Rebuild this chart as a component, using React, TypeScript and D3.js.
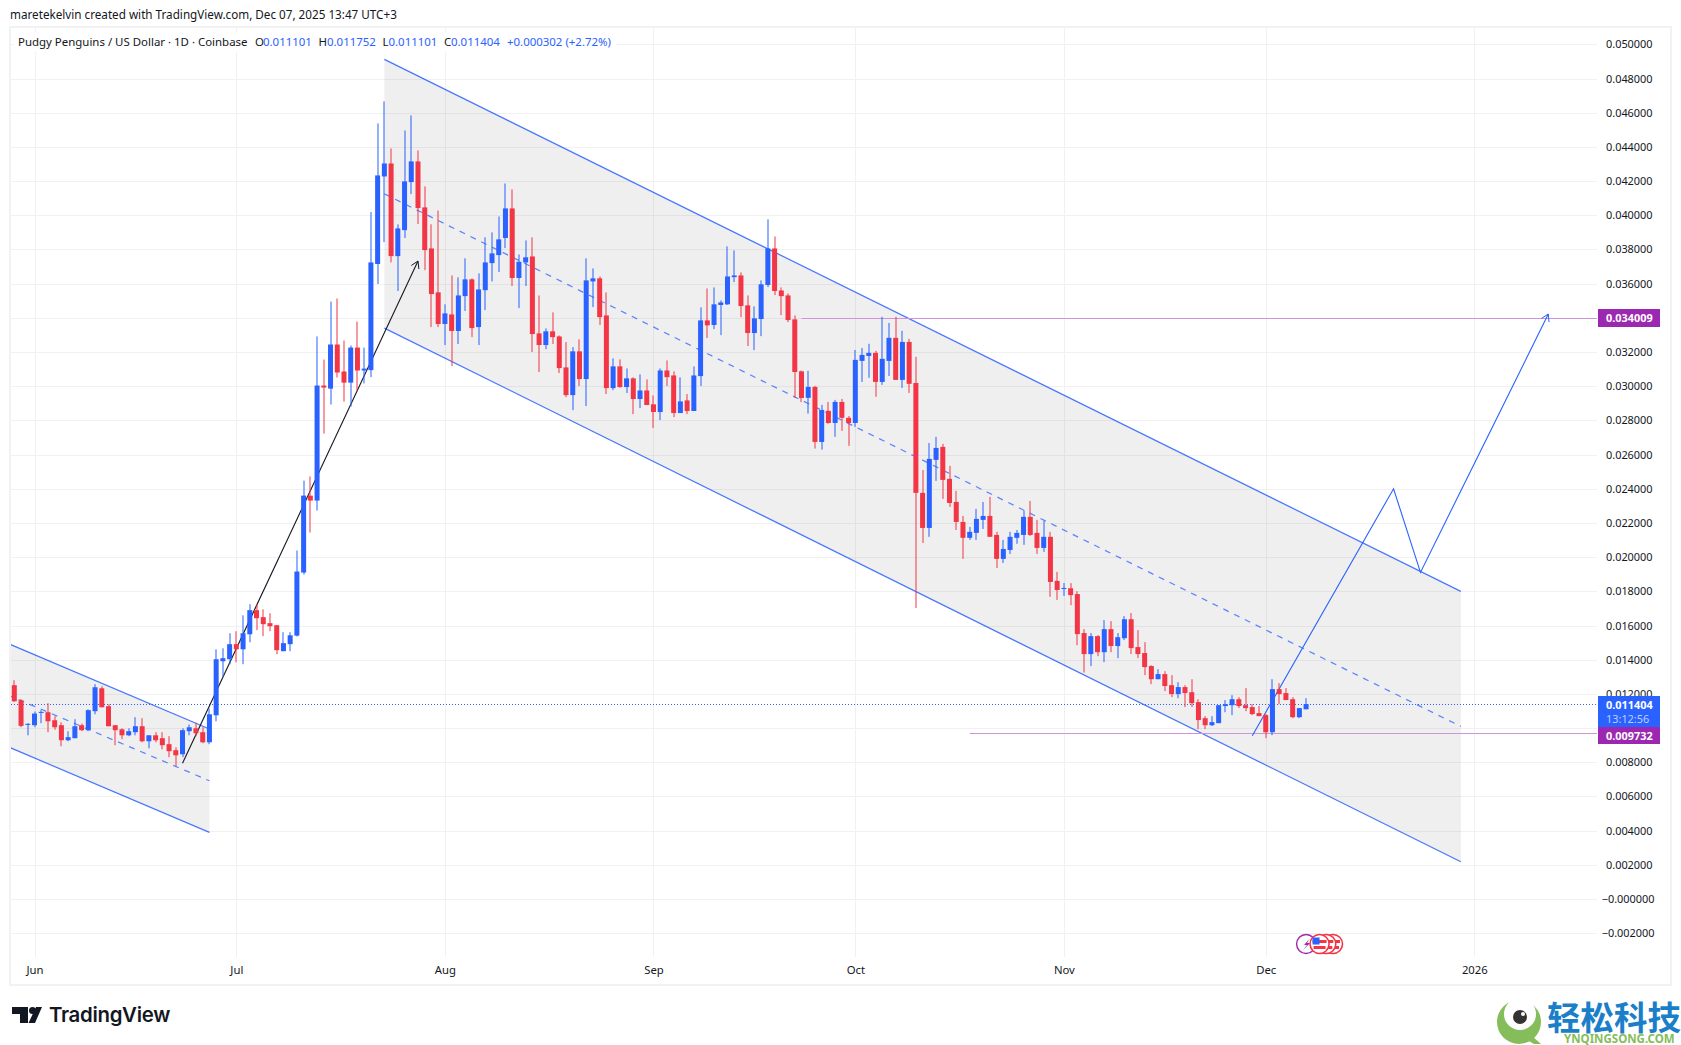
import React, { useRef, useEffect } from 'react';
import * as d3 from 'd3';

// daily candles, first one is 2025-05-29
const firstDay = new Date(Date.UTC(2025, 4, 29));

const opens = [
  0.01251, 0.01163, 0.01019, 0.01017, 0.01089, 0.01093, 0.01046, 0.01017, 0.00929, 0.00941,
  0.01017, 0.00988, 0.01099, 0.01233, 0.01128, 0.01017, 0.00993, 0.00958, 0.00976, 0.01011,
  0.00923, 0.00958, 0.00941, 0.00906, 0.00871, 0.00847, 0.00982, 0.00999, 0.00976, 0.00917,
  0.01075, 0.01391, 0.01403, 0.01491, 0.01461, 0.01549, 0.01690, 0.01649, 0.01614, 0.01602,
  0.01450, 0.01491, 0.01541, 0.01910, 0.02360, 0.02331, 0.03004, 0.02986, 0.03244, 0.03086,
  0.03021, 0.03226, 0.03092, 0.03094, 0.03715, 0.04227, 0.04303, 0.03761, 0.03913, 0.04194,
  0.04315, 0.04046, 0.03806, 0.03549, 0.03364, 0.03420, 0.03323, 0.03527, 0.03625, 0.03346,
  0.03562, 0.03720, 0.03767, 0.03867, 0.04040, 0.03633, 0.03724, 0.03759, 0.03309, 0.03241,
  0.03321, 0.03291, 0.03110, 0.02948, 0.03204, 0.03042, 0.03613, 0.03631, 0.03414, 0.02989,
  0.03116, 0.02995, 0.03046, 0.02925, 0.02975, 0.02894, 0.02849, 0.03092, 0.03063, 0.02843,
  0.02917, 0.02855, 0.03059, 0.03385, 0.03358, 0.03475, 0.03479, 0.03638, 0.03648, 0.03473,
  0.03311, 0.03393, 0.03592, 0.03806, 0.03560, 0.03531, 0.03391, 0.03087, 0.02932, 0.02996,
  0.02674, 0.02856, 0.02785, 0.02908, 0.02815, 0.02785, 0.03148, 0.03177, 0.03195, 0.03025,
  0.03148, 0.03283, 0.03037, 0.03259, 0.03019, 0.02376, 0.02171, 0.02569, 0.02645, 0.02458,
  0.02323, 0.02206, 0.02113, 0.02142, 0.02218, 0.02241, 0.02130, 0.01990, 0.02042, 0.02113,
  0.02130, 0.02236, 0.02142, 0.02054, 0.02119, 0.01861, 0.01814, 0.01818, 0.01784, 0.01556,
  0.01433, 0.01538, 0.01444, 0.01579, 0.01480, 0.01526, 0.01637, 0.01474, 0.01439, 0.01363,
  0.01286, 0.01316, 0.01251, 0.01199, 0.01240, 0.01210, 0.01152, 0.01058, 0.01017, 0.01029,
  0.01129, 0.01134, 0.01169, 0.01134, 0.01123, 0.01088, 0.01076, 0.00976, 0.01228, 0.01205,
  0.01169, 0.01064, 0.011101,
];

const highs = [
  0.01280, 0.01169, 0.01029, 0.01097, 0.01105, 0.01146, 0.01070, 0.01034, 0.00982, 0.01052,
  0.01027, 0.01110, 0.01257, 0.01245, 0.01140, 0.01017, 0.00999, 0.00999, 0.01064, 0.01058,
  0.00958, 0.00976, 0.00976, 0.00953, 0.00888, 0.00999, 0.01021, 0.01032, 0.01005, 0.01116,
  0.01461, 0.01467, 0.01555, 0.01567, 0.01660, 0.01725, 0.01725, 0.01695, 0.01672, 0.01602,
  0.01561, 0.01561, 0.02039, 0.02448, 0.02472, 0.03291, 0.03156, 0.03495, 0.03513, 0.03267,
  0.03238, 0.03378, 0.03226, 0.04019, 0.04537, 0.04666, 0.04391, 0.03947, 0.04496, 0.04584,
  0.04379, 0.04169, 0.03947, 0.04028, 0.03479, 0.03648, 0.03637, 0.03748, 0.03631, 0.03660,
  0.03871, 0.03900, 0.03993, 0.04186, 0.04151, 0.03771, 0.03853, 0.03871, 0.03531, 0.03338,
  0.03432, 0.03297, 0.03258, 0.03229, 0.03274, 0.03748, 0.03689, 0.03642, 0.03549, 0.03163,
  0.03157, 0.03104, 0.03052, 0.03069, 0.03040, 0.02946, 0.03104, 0.03151, 0.03087, 0.03052,
  0.02954, 0.03116, 0.03461, 0.03572, 0.03578, 0.03502, 0.03818, 0.03794, 0.03666, 0.03531,
  0.03467, 0.03619, 0.03976, 0.03876, 0.03578, 0.03543, 0.03414, 0.03092, 0.03090, 0.03002,
  0.02891, 0.02908, 0.02920, 0.02926, 0.02826, 0.03212, 0.03224, 0.03248, 0.03207, 0.03406,
  0.03370, 0.03406, 0.03324, 0.03277, 0.03172, 0.02510, 0.02668, 0.02704, 0.02663, 0.02534,
  0.02388, 0.02241, 0.02177, 0.02282, 0.02323, 0.02353, 0.02148, 0.02101, 0.02148, 0.02159,
  0.02271, 0.02329, 0.02218, 0.02212, 0.02148, 0.01914, 0.01849, 0.01848, 0.01801, 0.01579,
  0.01556, 0.01544, 0.01632, 0.01626, 0.01556, 0.01655, 0.01673, 0.01573, 0.01503, 0.01368,
  0.01345, 0.01333, 0.01310, 0.01269, 0.01251, 0.01286, 0.01169, 0.01070, 0.01070, 0.01134,
  0.01164, 0.01193, 0.01181, 0.01234, 0.01140, 0.01129, 0.01082, 0.01286, 0.01263, 0.01234,
  0.01181, 0.01117, 0.011752,
];

const lows = [
  0.01153, 0.01005, 0.00958, 0.01005, 0.01029, 0.00976, 0.00990, 0.00894, 0.00923, 0.00941,
  0.00982, 0.00982, 0.01081, 0.01122, 0.01011, 0.00900, 0.00935, 0.00953, 0.00958, 0.00917,
  0.00882, 0.00917, 0.00876, 0.00830, 0.00777, 0.00830, 0.00958, 0.00953, 0.00912, 0.00906,
  0.01040, 0.01302, 0.01374, 0.01385, 0.01374, 0.01502, 0.01573, 0.01538, 0.01567, 0.01432,
  0.01450, 0.01450, 0.01536, 0.01898, 0.02144, 0.02273, 0.02723, 0.02893, 0.03051, 0.02910,
  0.02881, 0.02975, 0.03016, 0.03053, 0.03598, 0.03843, 0.03724, 0.03557, 0.03867, 0.04124,
  0.03949, 0.03679, 0.03346, 0.03346, 0.03241, 0.03118, 0.03247, 0.03440, 0.03287, 0.03241,
  0.03445, 0.03613, 0.03668, 0.03808, 0.03586, 0.03457, 0.03586, 0.03200, 0.03083, 0.03217,
  0.03247, 0.03077, 0.02936, 0.02860, 0.03001, 0.02884, 0.03463, 0.03358, 0.02954, 0.02977,
  0.02991, 0.02960, 0.02837, 0.02872, 0.02890, 0.02755, 0.02802, 0.03001, 0.02819, 0.02843,
  0.02837, 0.02855, 0.03001, 0.03282, 0.03334, 0.03299, 0.03475, 0.03609, 0.03404, 0.03235,
  0.03211, 0.03293, 0.03580, 0.03533, 0.03416, 0.03375, 0.02931, 0.02907, 0.02840, 0.02635,
  0.02629, 0.02780, 0.02704, 0.02739, 0.02651, 0.02762, 0.03025, 0.03049, 0.02938, 0.03008,
  0.03060, 0.03037, 0.02990, 0.02961, 0.01703, 0.02083, 0.02119, 0.02446, 0.02341, 0.02294,
  0.02159, 0.01990, 0.02101, 0.02101, 0.02165, 0.02119, 0.01937, 0.01966, 0.02019, 0.02078,
  0.02072, 0.02124, 0.02019, 0.02031, 0.01768, 0.01750, 0.01773, 0.01719, 0.01485, 0.01325,
  0.01363, 0.01421, 0.01386, 0.01444, 0.01409, 0.01515, 0.01433, 0.01409, 0.01310, 0.01257,
  0.01286, 0.01216, 0.01181, 0.01175, 0.01123, 0.01123, 0.00994, 0.00994, 0.01012, 0.01029,
  0.01093, 0.01076, 0.01117, 0.01099, 0.01076, 0.01070, 0.00941, 0.00959, 0.01140, 0.01164,
  0.01058, 0.01058, 0.011101,
];

const closes = [
  0.01157, 0.01013, 0.01025, 0.01085, 0.01095, 0.01040, 0.01005, 0.00929, 0.00947, 0.01011,
  0.00988, 0.01105, 0.01239, 0.01122, 0.01011, 0.00988, 0.00958, 0.00982, 0.01011, 0.00923,
  0.00958, 0.00929, 0.00900, 0.00865, 0.00841, 0.00988, 0.01005, 0.00970, 0.00917, 0.01081,
  0.01403, 0.01409, 0.01491, 0.01461, 0.01555, 0.01690, 0.01643, 0.01608, 0.01596, 0.01456,
  0.01497, 0.01543, 0.01916, 0.02360, 0.02331, 0.03004, 0.02992, 0.03244, 0.03080, 0.03021,
  0.03226, 0.03092, 0.03103, 0.03724, 0.04233, 0.04303, 0.03761, 0.03923, 0.04198, 0.04315,
  0.04042, 0.03796, 0.03539, 0.03364, 0.03426, 0.03323, 0.03531, 0.03625, 0.03340, 0.03566,
  0.03724, 0.03777, 0.03859, 0.04040, 0.03633, 0.03728, 0.03754, 0.03305, 0.03241, 0.03321,
  0.03287, 0.03106, 0.02948, 0.03204, 0.03042, 0.03619, 0.03631, 0.03404, 0.02989, 0.03116,
  0.02995, 0.03046, 0.02925, 0.02975, 0.02890, 0.02849, 0.03092, 0.03053, 0.02843, 0.02911,
  0.02855, 0.03063, 0.03385, 0.03356, 0.03479, 0.03490, 0.03642, 0.03648, 0.03469, 0.03311,
  0.03397, 0.03596, 0.03806, 0.03557, 0.03527, 0.03387, 0.03083, 0.02931, 0.02996, 0.02674,
  0.02861, 0.02785, 0.02908, 0.02815, 0.02785, 0.03154, 0.03183, 0.03195, 0.03025, 0.03160,
  0.03283, 0.03037, 0.03259, 0.03014, 0.02376, 0.02171, 0.02575, 0.02639, 0.02452, 0.02317,
  0.02206, 0.02113, 0.02148, 0.02224, 0.02241, 0.02119, 0.01990, 0.02048, 0.02119, 0.02142,
  0.02236, 0.02130, 0.02054, 0.02119, 0.01855, 0.01808, 0.01820, 0.01778, 0.01550, 0.01433,
  0.01538, 0.01444, 0.01579, 0.01480, 0.01532, 0.01637, 0.01468, 0.01433, 0.01357, 0.01286,
  0.01316, 0.01246, 0.01199, 0.01240, 0.01205, 0.01146, 0.01047, 0.01017, 0.01035, 0.01134,
  0.01140, 0.01169, 0.01129, 0.01117, 0.01082, 0.01070, 0.00976, 0.01228, 0.01199, 0.01164,
  0.01064, 0.01117, 0.011404,
];

const priceTicks = d3.range(25, -2, -1).map(i => i * 0.002);
const monthTicks = ['2025-06-01', '2025-07-01', '2025-08-01', '2025-09-01', '2025-10-01', '2025-11-01', '2025-12-01', '2026-01-01'];
const monthLabels = ['Jun', 'Jul', 'Aug', 'Sep', 'Oct', 'Nov', 'Dec', '2026'];

// [date, price] anchors of the drawings
const bigTop: [string, number][] = [['2025-07-23', 0.04912], ['2025-12-30', 0.0180]];
const bigMid: [string, number][] = [['2025-07-23', 0.04125], ['2025-12-30', 0.0101]];
const bigBottom: [string, number][] = [['2025-07-23', 0.0334], ['2025-12-30', 0.00218]];
const smallTop: [string, number][] = [['2025-05-28', 0.01496], ['2025-06-27', 0.00995]];
const smallMid: [string, number][] = [['2025-05-28', 0.01194], ['2025-06-27', 0.00692]];
const smallBottom: [string, number][] = [['2025-05-28', 0.00892], ['2025-06-27', 0.0039]];
const riseArrow: [string, number][] = [['2025-06-23', 0.00794], ['2025-07-28', 0.03732]];
const projection: [string, number][] = [['2025-11-29', 0.00955], ['2025-12-20', 0.024], ['2025-12-24', 0.01911], ['2026-01-12', 0.03422]];

const resistance = { from: '2025-09-23', price: 0.034009, label: '0.034009' };
const support = { from: '2025-10-18', price: 0.009732, label: '0.009732' };
const lastPrice = 0.011404;
const countdown = '13:12:56';

const legendParts = [
  { at: 18, text: 'Pudgy Penguins / US Dollar · 1D · Coinbase', blue: false },
  { at: 255, text: 'O', blue: false },
  { at: 263, text: '0.011101', blue: true },
  { at: 318.5, text: 'H', blue: false },
  { at: 327, text: '0.011752', blue: true },
  { at: 382.5, text: 'L', blue: false },
  { at: 388.5, text: '0.011101', blue: true },
  { at: 444, text: 'C', blue: false },
  { at: 451, text: '0.011404', blue: true },
  { at: 507, text: '+0.000302 (+2.72%)', blue: true },
];

const flagDays = ['2025-12-11', '2025-12-10', '2025-12-09'];
const boltDay = '2025-12-07';

const BLUE = '#2962FF';
const RED = '#F23645';
const PURPLE = '#9C27B0';
const INK = '#131722';
const FONT = '"Noto Sans", sans-serif';

const parseDay = (s: string) => new Date(s + 'T00:00:00Z');

export default function App() {
  const ref = useRef<SVGSVGElement | null>(null);

  useEffect(() => {
    if (!ref.current) return;
    const svg = d3.select(ref.current);
    svg.selectAll('*').remove();

    const plot = { left: 11, right: 1597, top: 27, bottom: 957 };

    const x = d3.scaleUtc()
      .domain([parseDay('2025-06-01'), parseDay('2026-01-01')])
      .range([34.5, 1474.3]);
    const y = d3.scaleLinear()
      .domain([0.048, 0.008])
      .range([78.5, 762.3]);

    const clip = svg.append('clipPath').attr('id', 'plot-clip');
    clip.append('rect')
      .attr('x', plot.left).attr('y', plot.top)
      .attr('width', plot.right - plot.left).attr('height', plot.bottom - plot.top + 20);

    // frame
    svg.append('rect')
      .attr('x', 10).attr('y', 27).attr('width', 1661).attr('height', 958)
      .attr('fill', '#fff').attr('stroke', '#f2f2f2').attr('stroke-width', 2);

    svg.append('text')
      .attr('x', 10).attr('y', 19)
      .attr('font-family', FONT).attr('font-size', 11.7).attr('fill', INK)
      .text('maretekelvin created with TradingView.com, Dec 07, 2025 13:47 UTC+3');

    // grid
    const grid = svg.append('g').attr('fill', 'none').attr('stroke', '#f1f1f1');
    grid.selectAll('line.h').data(priceTicks).join('line')
      .attr('class', 'h')
      .attr('x1', plot.left).attr('x2', plot.right)
      .attr('y1', d => Math.round(y(d)) + 0.5).attr('y2', d => Math.round(y(d)) + 0.5);
    grid.selectAll('line.v').data(monthTicks).join('line')
      .attr('class', 'v')
      .attr('x1', d => Math.round(x(parseDay(d))) + 0.5).attr('x2', d => Math.round(x(parseDay(d))) + 0.5)
      .attr('y1', plot.top).attr('y2', plot.bottom);

    // legend sits on its own white strip
    svg.append('rect').attr('x', 14).attr('y', 32).attr('width', 602).attr('height', 20).attr('fill', '#fff');
    svg.append('g').selectAll('text').data(legendParts).join('text')
      .attr('x', d => d.at).attr('y', 46)
      .attr('font-family', FONT).attr('font-size', 11.45)
      .attr('fill', d => (d.blue ? BLUE : INK))
      .text(d => d.text);

    const drawings = svg.append('g').attr('clip-path', 'url(#plot-clip)');
    const toXY = (d: [string, number]): [number, number] => [x(parseDay(d[0])), y(d[1])];
    const line = d3.line<[string, number]>().x(d => toXY(d)[0]).y(d => toXY(d)[1]);

    const channel = (top: [string, number][], mid: [string, number][], bottom: [string, number][]) => {
      drawings.append('path')
        .attr('d', line([top[0], top[1], bottom[1], bottom[0]]) + 'Z')
        .attr('fill', 'rgba(120,123,134,0.12)');
      [top, bottom].forEach(l => {
        drawings.append('path').attr('d', line(l)).attr('fill', 'none')
          .attr('stroke', BLUE).attr('stroke-opacity', 0.85).attr('stroke-width', 1.25);
      });
      drawings.append('path').attr('d', line(mid)).attr('fill', 'none')
        .attr('stroke', BLUE).attr('stroke-opacity', 0.75).attr('stroke-width', 1.25).attr('stroke-dasharray', '6 6');
    };
    channel(smallTop, smallMid, smallBottom);
    channel(bigTop, bigMid, bigBottom);

    // support / resistance
    [resistance, support].forEach(l => {
      drawings.append('line')
        .attr('x1', x(parseDay(l.from))).attr('x2', plot.right)
        .attr('y1', Math.round(y(l.price)) + 0.5).attr('y2', Math.round(y(l.price)) + 0.5)
        .attr('stroke', '#CE93D8').attr('stroke-width', 1.2);
    });

    // last price
    drawings.append('line')
      .attr('x1', plot.left).attr('x2', plot.right)
      .attr('y1', Math.round(y(lastPrice)) + 0.5).attr('y2', Math.round(y(lastPrice)) + 0.5)
      .attr('stroke', BLUE).attr('stroke-dasharray', '1 2');

    const arrowed = (pts: [string, number][], color: string) => {
      const p = pts.map(toXY);
      const [x0, y0] = p[p.length - 2];
      const [x1, y1] = p[p.length - 1];
      const a = Math.atan2(y1 - y0, x1 - x0);
      const head = d3.path();
      [-0.55, 0.55].forEach(o => {
        head.moveTo(x1 - 8 * Math.cos(a + o), y1 - 8 * Math.sin(a + o));
        head.lineTo(x1, y1);
      });
      drawings.append('path').attr('d', line(pts)).attr('fill', 'none').attr('stroke', color).attr('stroke-width', 1.1);
      drawings.append('path').attr('d', head.toString()).attr('fill', 'none').attr('stroke', color);
    };
    arrowed(riseArrow, INK);
    arrowed(projection, BLUE);

    // candles
    const candles = opens.map((o, i) => ({
      date: d3.utcDay.offset(firstDay, i),
      o, h: highs[i], l: lows[i], c: closes[i],
    }));
    const cg = svg.append('g').attr('clip-path', 'url(#plot-clip)');
    const candle = cg.selectAll('g').data(candles).join('g')
      .attr('fill', d => (d.c >= d.o ? BLUE : RED));
    candle.append('rect')
      .attr('x', d => Math.round(x(d.date)) - 0.5).attr('width', 1)
      .attr('y', d => y(d.h)).attr('height', d => y(d.l) - y(d.h));
    candle.append('rect')
      .attr('x', d => x(d.date) - 2.5).attr('width', 5)
      .attr('y', d => y(Math.max(d.o, d.c)))
      .attr('height', d => Math.max(1, y(Math.min(d.o, d.c)) - y(Math.max(d.o, d.c))));

    // price axis
    const yAxis = d3.axisRight(y)
      .tickValues(priceTicks)
      .tickSize(0)
      .tickPadding(0)
      .tickFormat(d => {
        const v = +d;
        const s = Math.abs(v).toFixed(6);
        return v <= 0 ? '\u2212' + s : s;
      });
    const yg = svg.append('g').attr('transform', 'translate(1606,0)').call(yAxis);
    yg.select('.domain').remove();
    yg.selectAll('text')
      .attr('font-family', FONT).attr('font-size', 10.9).attr('fill', INK);
    yg.selectAll<SVGTextElement, number>('text')
      .filter(d => +d <= 0)
      .attr('text-anchor', 'end').attr('x', 48.5);

    // time axis
    const xAxis = d3.axisBottom(x)
      .tickValues(monthTicks.map(parseDay))
      .tickSize(0)
      .tickPadding(0)
      .tickFormat((_, i) => monthLabels[i]);
    const xg = svg.append('g').attr('transform', 'translate(0,966)').call(xAxis);
    xg.select('.domain').remove();
    xg.selectAll<SVGTextElement, Date>('text')
      .attr('font-family', FONT).attr('font-size', 11.3).attr('fill', INK);

    // axis badges
    const badge = (top: number, h: number, fill: string, label: string) => {
      svg.append('rect').attr('x', 1598).attr('y', top).attr('width', 62).attr('height', h).attr('fill', fill);
      svg.append('text')
        .attr('x', 1606).attr('y', top + 13)
        .attr('font-family', FONT).attr('font-size', 10.9).attr('font-weight', 700).attr('fill', '#fff')
        .text(label);
    };
    badge(Math.round(y(resistance.price)) - 9, 18, PURPLE, resistance.label);
    badge(696, 31, BLUE, lastPrice.toFixed(6));
    svg.append('text')
      .attr('x', 1606).attr('y', 723)
      .attr('font-family', FONT).attr('font-size', 10.9).attr('fill', '#fff').attr('fill-opacity', 0.7)
      .text(countdown);
    badge(727, 17, PURPLE, support.label);

    // economic event badges under the last candles
    const ev = svg.append('g');
    const evY = 944;
    const boltX = x(parseDay(boltDay));
    ev.append('circle')
      .attr('cx', boltX).attr('cy', evY).attr('r', 9.5)
      .attr('fill', '#fff').attr('stroke', PURPLE).attr('stroke-width', 1.4);
    ev.append('path')
      .attr('d', `M${boltX + 3},${evY - 5}L${boltX - 2},${evY + 1}L${boltX + 1},${evY + 1}L${boltX - 3},${evY + 6}L${boltX + 4},${evY - 1}L${boltX + 1},${evY - 1}Z`)
      .attr('fill', PURPLE);
    flagDays.forEach(day => {
      const cx = x(parseDay(day));
      const f = ev.append('g');
      f.append('circle').attr('cx', cx).attr('cy', evY).attr('r', 9.5).attr('fill', '#fff').attr('stroke', RED).attr('stroke-width', 1.6);
      f.append('rect').attr('x', cx - 7).attr('y', evY - 4).attr('width', 14).attr('height', 3).attr('fill', RED);
      f.append('rect').attr('x', cx - 6).attr('y', evY + 2).attr('width', 12).attr('height', 3).attr('fill', RED);
      f.append('rect').attr('x', cx - 7).attr('y', evY - 6.5).attr('width', 7).attr('height', 7).attr('fill', BLUE);
    });

    // TradingView logo
    const logo = svg.append('g').attr('fill', INK);
    logo.append('path').attr('d', 'M12,1007H28V1023H20V1014H12Z');
    logo.append('circle').attr('cx', 32.5).attr('cy', 1010.5).attr('r', 3.5);
    logo.append('path').attr('d', 'M36,1007H42L35,1023H28.5Z');
    logo.append('text')
      .attr('x', 49).attr('y', 1022)
      .attr('font-family', '"Inter", sans-serif').attr('font-size', 20.4).attr('font-weight', 600)
      .attr('letter-spacing', -0.3)
      .text('TradingView');

    // site watermark
    const mark = svg.append('g');
    mark.append('circle').attr('cx', 1519).attr('cy', 1022).attr('r', 22).attr('fill', '#85BD5A');
    mark.append('circle').attr('cx', 1520).attr('cy', 1014).attr('r', 16).attr('fill', '#fff');
    mark.append('circle').attr('cx', 1520).attr('cy', 1017).attr('r', 7).attr('fill', '#333');
    mark.append('circle').attr('cx', 1523).attr('cy', 1014).attr('r', 2).attr('fill', '#fff');
    mark.append('path').attr('d', 'M1532,1036L1541,1044H1534L1527,1040Z').attr('fill', '#85BD5A');
    mark.append('text')
      .attr('x', 1547).attr('y', 1030)
      .attr('font-family', '"Noto Sans CJK SC", sans-serif').attr('font-size', 33.5).attr('font-weight', 700)
      .attr('fill', '#1A7FC8')
      .text('轻松科技');
    mark.append('text')
      .attr('x', 1564).attr('y', 1043)
      .attr('font-family', FONT).attr('font-size', 11.5).attr('font-weight', 700)
      .attr('fill', '#85BD5A')
      .text('YNQINGSONG.COM');
  }, []);

  return (
    <svg
      ref={ref}
      width={1681}
      height={1045}
      style={{ position: 'absolute', left: 0, top: 0, background: '#fff', display: 'block' }}
    />
  );
}
